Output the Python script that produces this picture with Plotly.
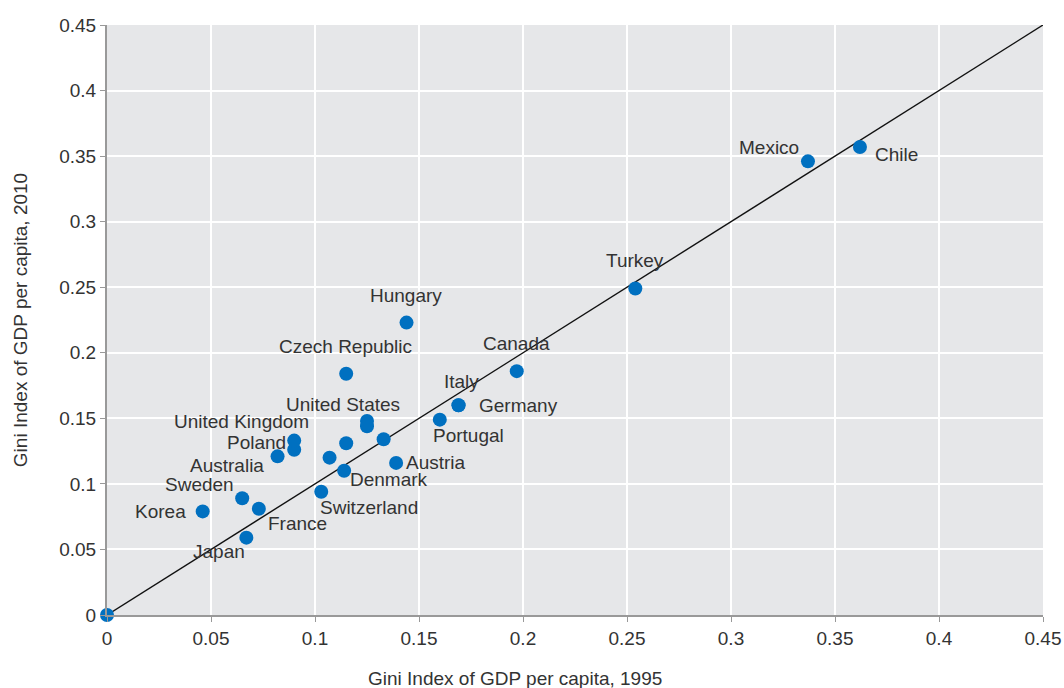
import plotly.graph_objects as go

# Gini index of GDP per capita across regions, 1995 vs 2010
countries = ["", "Korea", "Sweden", "France", "Japan", "Australia", "Poland",
             "United Kingdom", "Czech Republic", "Hungary", "", "", "Denmark",
             "Switzerland", "United States", "", "", "Austria", "Portugal",
             "Italy", "Germany", "Canada", "Turkey", "Mexico", "Chile"]
gini_1995 = [0.0, 0.046, 0.065, 0.073, 0.067, 0.082, 0.090,
             0.090, 0.115, 0.144, 0.107, 0.115, 0.114,
             0.103, 0.125, 0.125, 0.133, 0.139, 0.160,
             0.169, 0.169, 0.197, 0.254, 0.337, 0.362]
gini_2010 = [0.0, 0.079, 0.089, 0.081, 0.059, 0.121, 0.126,
             0.133, 0.184, 0.223, 0.120, 0.131, 0.110,
             0.094, 0.148, 0.144, 0.134, 0.116, 0.149,
             0.160, 0.160, 0.186, 0.249, 0.346, 0.357]
axis_ticks = [0, 0.05, 0.1, 0.15, 0.2, 0.25, 0.3, 0.35, 0.4, 0.45]
tick_text = ["0", "0.05", "0.1", "0.15", "0.2", "0.25", "0.3", "0.35", "0.4", "0.45"]
x_title = "Gini Index of GDP per capita, 1995"
y_title = "Gini Index of GDP per capita, 2010"

# label placement: pixel offset of each label's centre from its marker
label_offset = {
    "Korea": (-42, 0),
    "Sweden": (-43, 14),
    "France": (39, -15),
    "Japan": (-27, -14),
    "Australia": (-51, -9),
    "Poland": (-38, 7),
    "United Kingdom": (-53, 19),
    "Czech Republic": (-1, 27),
    "Hungary": (-1, 27),
    "Denmark": (45, -9),
    "Switzerland": (48, -16),
    "United States": (-24, 16),
    "Austria": (40, 0),
    "Portugal": (29, -16),
    "Italy": (3, 24),
    "Germany": (60, 0),
    "Canada": (0, 28),
    "Turkey": (0, 28),
    "Mexico": (-39, 14),
    "Chile": (37, -8),
}

text_color = "#333333"
font_family = "Arial, Liberation Sans, sans-serif"
font_size = 19

fig = go.Figure()

# line of equality
fig.add_trace(go.Scatter(
    x=[axis_ticks[0], axis_ticks[-1]], y=[axis_ticks[0], axis_ticks[-1]],
    mode="lines", line=dict(color="#111111", width=1.4),
    hoverinfo="skip", showlegend=False, cliponaxis=False,
))

fig.add_trace(go.Scatter(
    x=gini_1995, y=gini_2010, mode="markers", text=countries,
    marker=dict(color="#0070C0", size=14, line=dict(width=0)),
    showlegend=False, cliponaxis=False,
))

for name, gx, gy in zip(countries, gini_1995, gini_2010):
    if not name:
        continue
    dx, dy = label_offset[name]
    fig.add_annotation(
        x=gx, y=gy, text=name, showarrow=False,
        xshift=dx, yshift=dy, xanchor="center", yanchor="middle",
        font=dict(size=font_size, color=text_color, family=font_family),
    )

# x-axis title, set slightly left of the plot centre
fig.add_annotation(
    x=0.436, y=0, xref="paper", yref="paper", text=x_title, showarrow=False,
    xanchor="center", yanchor="middle", yshift=-63,
    font=dict(size=font_size, color=text_color, family=font_family),
)

axis_common = dict(
    range=[0, 0.45], tickvals=axis_ticks, ticktext=tick_text,
    showgrid=True, gridcolor="white", gridwidth=2,
    showline=True, linecolor="#999999", linewidth=2,
    ticks="outside", ticklen=5, tickcolor="#999999", tickwidth=1,
    zeroline=False, automargin=False,
    tickfont=dict(size=font_size, color=text_color, family=font_family),
    title_font=dict(size=font_size, color=text_color, family=font_family),
)

fig.update_layout(
    width=1064, height=688,
    margin=dict(l=107, r=21, t=25, b=73),
    plot_bgcolor="#E6E7E9", paper_bgcolor="white",
    xaxis=dict(axis_common),
    yaxis=dict(axis_common, title=dict(text=y_title, standoff=27)),
    font=dict(family=font_family, color=text_color),
)

fig.write_html("out.html")
